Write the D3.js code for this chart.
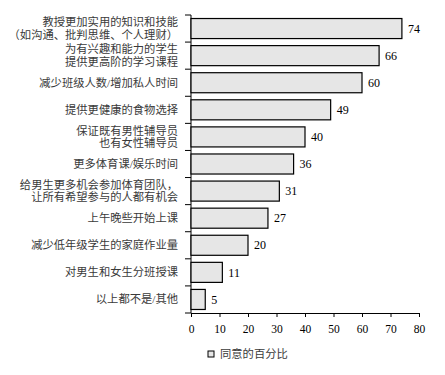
<!DOCTYPE html>
<html>
<head>
<meta charset="utf-8">
<script src="https://cdn.jsdelivr.net/npm/d3@7"></script>
<style>
  body { margin: 0; background: #fff; }
  svg text { font-family: "Liberation Serif", "DejaVu Serif", serif; }
  .cat { font-family: "Liberation Serif", "Noto Sans CJK SC", sans-serif; font-size: 11.3px; fill: #3a3a3a; }
</style>
</head>
<body>
<svg width="445" height="375"></svg>
<script>
// categories (lines split for the two-line labels), values in percent
var categories = [
  ["教授更加实用的知识和技能", "（如沟通、批判思维、个人理财）"],
  ["为有兴趣和能力的学生", "提供更高阶的学习课程"],
  ["减少班级人数/增加私人时间"],
  ["提供更健康的食物选择"],
  ["保证既有男性辅导员", "也有女性辅导员"],
  ["更多体育课/娱乐时间"],
  ["给男生更多机会参加体育团队，", "让所有希望参与的人都有机会"],
  ["上午晚些开始上课"],
  ["减少低年级学生的家庭作业量"],
  ["对男生和女生分班授课"],
  ["以上都不是/其他"]
];
var values = [74, 66, 60, 49, 40, 36, 31, 27, 20, 11, 5];
var xTicks = [0, 10, 20, 30, 40, 50, 60, 70, 80];
var legendLabel = "同意的百分比";

var margin = {top: 15, left: 191, right: 26, bottom: 62};
var width = 445 - margin.left - margin.right;
var height = 375 - margin.top - margin.bottom;

var svg = d3.select("svg")
  .append("g")
  .attr("transform", "translate(" + margin.left + "," + margin.top + ")");

var x = d3.scaleLinear().domain([0, 80]).range([0, width]);
var y = d3.scaleBand().domain(d3.range(values.length)).range([0, height])
  .paddingInner(0.26).paddingOuter(0.13);

// y axis: ticks at band boundaries
var bounds = d3.range(values.length + 1).map(i => i * y.step());
svg.append("line")
  .attr("x1", 0).attr("x2", 0).attr("y1", 0).attr("y2", height)
  .attr("stroke", "#000");
svg.selectAll(".ytick").data(bounds).enter().append("line")
  .attr("x1", -6).attr("x2", 0)
  .attr("y1", d => d).attr("y2", d => d)
  .attr("stroke", "#000");

// x axis
var xAxis = d3.axisBottom(x).tickValues(xTicks).tickSize(4).tickSizeOuter(0);
var xG = svg.append("g")
  .attr("transform", "translate(0," + height + ")")
  .call(xAxis);
xG.select(".domain").attr("stroke", "#000");
xG.selectAll("text").attr("font-size", 11.5).attr("fill", "#000")
  .attr("font-family", "Liberation Serif, serif").attr("dy", "1.1em");

// bars
svg.selectAll(".bar").data(values).enter().append("rect")
  .attr("x", 0)
  .attr("y", (d, i) => y(i))
  .attr("width", d => x(d))
  .attr("height", y.bandwidth())
  .attr("fill", "#e6e6e6")
  .attr("stroke", "#000")
  .attr("stroke-width", 1.2);

// value labels
svg.selectAll(".val").data(values).enter().append("text")
  .attr("x", d => x(d) + 6)
  .attr("y", (d, i) => y(i) + y.bandwidth() / 2)
  .attr("dy", "0.35em")
  .attr("font-size", 12)
  .attr("fill", "#000")
  .text(d => d);

// category labels
var lineH = 12.6;
categories.forEach(function(lines, i) {
  var cy = y(i) + y.bandwidth() / 2;
  var t = svg.append("text")
    .attr("class", "cat")
    .attr("text-anchor", "end")
    .attr("x", -13);
  lines.forEach(function(s, k) {
    t.append("tspan")
      .attr("x", -13)
      .attr("y", cy + (k - (lines.length - 1) / 2) * lineH)
      .attr("dy", "0.35em")
      .text(s);
  });
});

// legend
var lg = svg.append("g").attr("transform", "translate(17," + (height + 38) + ")");
lg.append("rect").attr("x", 0).attr("y", 0).attr("width", 6).attr("height", 6)
  .attr("fill", "#e6e6e6").attr("stroke", "#000").attr("stroke-width", 1);
lg.append("text").attr("class", "cat")
  .attr("x", 12).attr("y", 3).attr("dy", "0.35em")
  .attr("fill", "#555")
  .text(legendLabel);
</script>
</body>
</html>
